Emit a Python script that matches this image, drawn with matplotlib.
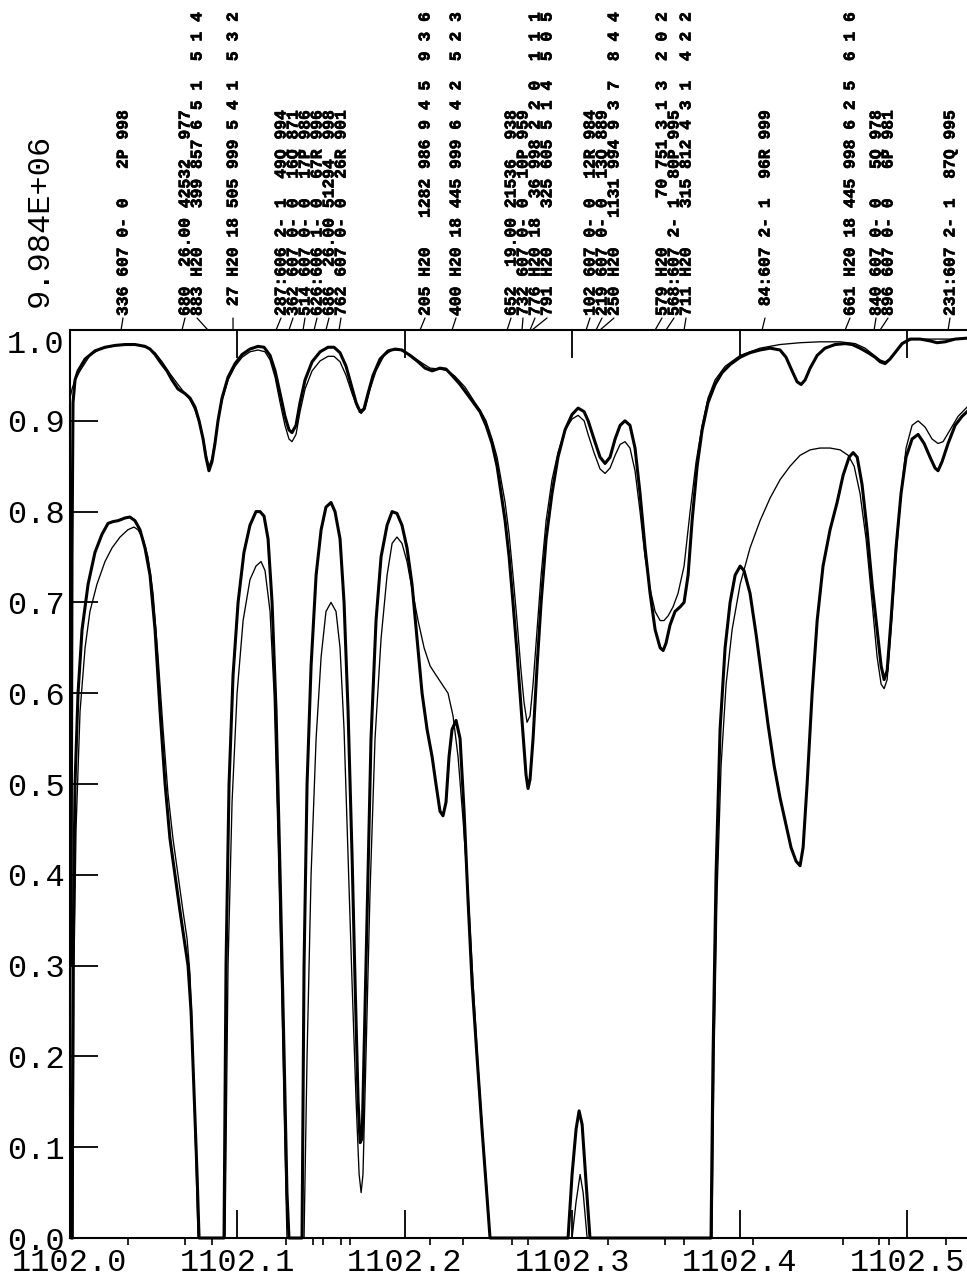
import matplotlib
matplotlib.use("Agg")
import matplotlib.pyplot as plt
from matplotlib.patches import ConnectionPatch
from matplotlib.font_manager import FontProperties
import matplotlib.patheffects as pe
import numpy as np

plt.rcParams['font.family'] = ['Liberation Mono', 'DejaVu Sans Mono']

# ---------------- data (wavenumber offsets above 1102.0 cm-1, transmittance) -------------
BASE = 1102.0

ut_x = [.0006,.0012,.0018,.0030,.0048,.0090,.0149,.0209,.0269,.0329,.0388,.0448,.0478,.0508,.0538,.0579,.0609,.0645,.0687,.0717,.0747,.0771,.0795,.0812,.0830,.0848,.0866,.0884,.0908,.0944,.0986,.1028,.1075,.1123,.1159,.1195,.1225,.1255,.1284,.1308,.1326,.1350,.1374,.1404,.1446,.1494,.1541,.1577,.1613,.1649,.1679,.1709,.1733,.1756,.1780,.1810,.1852,.1900,.1942,.1983,.2031,.2079,.2121,.2163,.2210,.2246,.2282,.2330,.2390,.2449,.2485,.2521,.2551,.2575,.2599,.2623,.2646,.2670,.2694,.2712,.2724,.2736,.2748,.2766,.2790,.2814,.2844,.2879,.2915,.2957,.2999,.3035,.3071,.3095,.3130,.3166,.3196,.3226,.3256,.3286,.3315,.3345,.3375,.3405,.3435,.3465,.3495,.3525,.3543,.3560,.3584,.3614,.3644,.3668,.3692,.3716,.3746,.3776,.3811,.3853,.3895,.3943,.4003,.4062,.4122,.4182,.4241,.4277,.4313,.4343,.4367,.4391,.4421,.4463,.4510,.4570,.4630,.4672,.4719,.4767,.4809,.4839,.4869,.4898,.4928,.4970,.5018,.5078,.5137,.5179,.5227,.5287,.5358]
ut_y = [0.30,0.75,0.92,0.945,0.955,0.968,0.977,0.981,0.983,0.984,0.984,0.982,0.979,0.973,0.965,0.955,0.945,0.935,0.93,0.925,0.915,0.90,0.88,0.86,0.845,0.855,0.875,0.90,0.925,0.948,0.963,0.973,0.979,0.982,0.981,0.972,0.955,0.93,0.905,0.89,0.887,0.895,0.92,0.945,0.965,0.976,0.981,0.981,0.975,0.96,0.94,0.92,0.91,0.913,0.93,0.95,0.968,0.977,0.979,0.978,0.972,0.965,0.958,0.955,0.958,0.957,0.950,0.94,0.925,0.91,0.895,0.875,0.85,0.82,0.79,0.75,0.70,0.645,0.585,0.54,0.51,0.495,0.505,0.55,0.63,0.70,0.77,0.82,0.86,0.89,0.907,0.914,0.91,0.90,0.88,0.86,0.853,0.86,0.88,0.895,0.9,0.895,0.87,0.82,0.76,0.71,0.67,0.65,0.647,0.655,0.675,0.69,0.695,0.70,0.73,0.79,0.85,0.89,0.92,0.94,0.953,0.962,0.97,0.975,0.978,0.98,0.978,0.97,0.955,0.943,0.94,0.945,0.958,0.972,0.98,0.984,0.985,0.984,0.98,0.975,0.97,0.965,0.963,0.968,0.975,0.985,0.99,0.99,0.988,0.986,0.987,0.99,0.991]

uu_x = [.0000,.0012,.0030,.0060,.0119,.0179,.0269,.0358,.0418,.0466,.0508,.0550,.0597,.0645,.0687,.0717,.0747,.0777,.0801,.0818,.0830,.0848,.0866,.0884,.0908,.0944,.0986,.1028,.1075,.1123,.1165,.1195,.1225,.1255,.1284,.1308,.1326,.1350,.1374,.1404,.1446,.1494,.1541,.1577,.1613,.1649,.1685,.1715,.1739,.1762,.1792,.1828,.1876,.1924,.1971,.2031,.2091,.2151,.2210,.2258,.2300,.2360,.2419,.2449,.2485,.2521,.2551,.2575,.2599,.2623,.2646,.2670,.2694,.2712,.2730,.2748,.2766,.2790,.2814,.2844,.2879,.2915,.2957,.2999,.3035,.3071,.3095,.3130,.3166,.3196,.3226,.3256,.3286,.3315,.3345,.3375,.3405,.3435,.3465,.3495,.3525,.3548,.3572,.3602,.3632,.3668,.3704,.3740,.3776,.3811,.3853,.3913,.4003,.4122,.4241,.4361,.4480,.4600,.4690,.4749,.4797,.4839,.4869,.4898,.4934,.4976,.5030,.5137,.5257,.5358]
uu_y = [0.925,0.935,0.945,0.955,0.972,0.979,0.983,0.984,0.983,0.98,0.975,0.965,0.952,0.94,0.93,0.923,0.912,0.895,0.875,0.858,0.85,0.858,0.878,0.90,0.922,0.945,0.96,0.97,0.976,0.978,0.976,0.967,0.948,0.92,0.895,0.88,0.877,0.885,0.91,0.935,0.955,0.966,0.971,0.971,0.965,0.95,0.93,0.915,0.908,0.913,0.935,0.955,0.972,0.978,0.978,0.973,0.965,0.958,0.957,0.955,0.949,0.937,0.92,0.912,0.90,0.88,0.86,0.835,0.81,0.775,0.73,0.68,0.625,0.59,0.568,0.575,0.61,0.67,0.73,0.79,0.835,0.865,0.89,0.902,0.906,0.90,0.885,0.865,0.847,0.842,0.848,0.862,0.874,0.877,0.87,0.845,0.80,0.75,0.715,0.69,0.68,0.68,0.685,0.695,0.71,0.74,0.80,0.855,0.895,0.925,0.945,0.96,0.972,0.98,0.984,0.986,0.987,0.987,0.985,0.98,0.973,0.967,0.965,0.968,0.976,0.985,0.99,0.99,0.99,0.991]

lt_x = [.0012,.0018,.0030,.0048,.0072,.0108,.0149,.0191,.0227,.0257,.0287,.0329,.0358,.0388,.0418,.0448,.0478,.0508,.0538,.0568,.0597,.0627,.0657,.0681,.0705,.0723,.0741,.0759,.0771,.0920,.0932,.0950,.0974,.1004,.1039,.1075,.1111,.1135,.1159,.1183,.1207,.1231,.1255,.1279,.1296,.1308,.1386,.1398,.1416,.1440,.1470,.1500,.1529,.1559,.1583,.1613,.1637,.1661,.1685,.1703,.1721,.1733,.1745,.1756,.1774,.1798,.1828,.1858,.1894,.1924,.1953,.1983,.2013,.2043,.2073,.2103,.2133,.2163,.2186,.2210,.2228,.2246,.2264,.2282,.2306,.2330,.2354,.2378,.2402,.2431,.2461,.2485,.2509,.2975,.2999,.3023,.3041,.3059,.3083,.3106,.3829,.3841,.3859,.3883,.3913,.3943,.3973,.4003,.4026,.4062,.4098,.4134,.4170,.4206,.4241,.4277,.4307,.4337,.4361,.4379,.4403,.4433,.4463,.4498,.4540,.4582,.4618,.4654,.4678,.4702,.4731,.4761,.4791,.4821,.4845,.4863,.4881,.4904,.4934,.4964,.4994,.5030,.5066,.5102,.5137,.5167,.5185,.5209,.5245,.5287,.5329,.5358]
lt_y = [0.0,0.3,0.5,0.6,0.67,0.72,0.755,0.775,0.787,0.789,0.79,0.793,0.794,0.79,0.78,0.76,0.73,0.67,0.58,0.50,0.44,0.40,0.36,0.33,0.30,0.25,0.16,0.07,0.0,0.0,0.3,0.5,0.62,0.7,0.755,0.785,0.80,0.80,0.795,0.77,0.70,0.58,0.40,0.20,0.05,0.0,0.0,0.3,0.5,0.63,0.73,0.78,0.805,0.81,0.80,0.77,0.70,0.58,0.42,0.28,0.15,0.105,0.11,0.2,0.35,0.55,0.68,0.75,0.785,0.80,0.798,0.785,0.76,0.72,0.66,0.60,0.56,0.53,0.50,0.47,0.465,0.48,0.53,0.56,0.57,0.55,0.47,0.37,0.28,0.20,0.12,0.06,0.0,0.0,0.07,0.12,0.14,0.125,0.06,0.0,0.0,0.2,0.4,0.56,0.65,0.70,0.73,0.74,0.735,0.71,0.665,0.615,0.565,0.52,0.485,0.455,0.43,0.415,0.41,0.43,0.50,0.60,0.68,0.74,0.78,0.81,0.84,0.86,0.865,0.86,0.83,0.78,0.72,0.67,0.63,0.615,0.625,0.68,0.76,0.82,0.86,0.88,0.885,0.875,0.86,0.848,0.845,0.855,0.875,0.895,0.905,0.91]

lu_x = [.0018,.0024,.0036,.0060,.0090,.0119,.0161,.0209,.0251,.0299,.0346,.0382,.0406,.0436,.0466,.0496,.0526,.0556,.0585,.0615,.0645,.0675,.0699,.0717,.0735,.0753,.0765,.0926,.0944,.0968,.0998,.1034,.1075,.1111,.1141,.1165,.1195,.1219,.1243,.1267,.1284,.1296,.1398,.1416,.1440,.1470,.1500,.1529,.1559,.1589,.1613,.1637,.1661,.1685,.1709,.1727,.1739,.1750,.1768,.1792,.1822,.1858,.1894,.1924,.1953,.1983,.2013,.2043,.2079,.2115,.2151,.2186,.2222,.2258,.2288,.2318,.2348,.2378,.2408,.2437,.2467,.2491,.2509,.2999,.3023,.3047,.3065,.3089,.3835,.3847,.3865,.3889,.3919,.3955,.4003,.4062,.4122,.4182,.4241,.4301,.4361,.4421,.4480,.4540,.4600,.4648,.4684,.4719,.4755,.4791,.4821,.4845,.4863,.4881,.4904,.4934,.4964,.4994,.5030,.5066,.5108,.5149,.5185,.5215,.5257,.5305,.5358]
lu_y = [0.0,0.3,0.45,0.58,0.65,0.69,0.72,0.745,0.76,0.772,0.78,0.783,0.78,0.77,0.75,0.71,0.64,0.56,0.49,0.44,0.40,0.36,0.33,0.29,0.20,0.08,0.0,0.0,0.3,0.48,0.6,0.68,0.725,0.74,0.745,0.735,0.69,0.60,0.44,0.25,0.10,0.0,0.0,0.2,0.4,0.55,0.64,0.69,0.70,0.69,0.65,0.56,0.42,0.28,0.15,0.07,0.05,0.07,0.2,0.38,0.55,0.66,0.73,0.765,0.772,0.765,0.745,0.715,0.68,0.65,0.63,0.62,0.61,0.60,0.575,0.53,0.46,0.38,0.28,0.19,0.11,0.05,0.0,0.0,0.04,0.07,0.05,0.0,0.0,0.2,0.38,0.52,0.61,0.67,0.72,0.76,0.79,0.815,0.835,0.85,0.862,0.868,0.87,0.87,0.868,0.862,0.85,0.82,0.77,0.70,0.64,0.61,0.605,0.615,0.67,0.75,0.82,0.87,0.895,0.9,0.893,0.88,0.875,0.877,0.89,0.905,0.915]

x_major = [1102.0, 1102.1, 1102.2, 1102.3, 1102.4, 1102.5]
x_major_labels = ['1102.0', '1102.1', '1102.2', '1102.3', '1102.4', '1102.5']
x_minor_off = [.0346,.0687,.0848,.1290,.1452,.1511,.1619,.1673,.2151,.2348,.2640,.2736,.3214,.3554,.3668,.4080,.4618,.4833,.4893,.5233]
y_major = [0.0, 0.1, 0.2, 0.3, 0.4, 0.5, 0.6, 0.7, 0.8, 0.9, 1.0]
y_major_labels = ['0.0', '0.1', '0.2', '0.3', '0.4', '0.5', '0.6', '0.7', '0.8', '0.9', '1.0']
scale_label = '9.984E+06'

# line-list annotations: text, line position (offset), text column (px)
line_texts = [
    "336 607 0- 0   2P 998",
    "680  26.00 42532  977",
    "883 H20    399 857 6 5 1  5 1 4",
    " 27 H20 18 505 999 5 4 1  5 3 2",
    "287:606 2- 1  49Q 994",
    "362 607 0- 0  16Q 871",
    "514 607 0- 0  17P 986",
    "626:606 1- 0  67R 996",
    "686  26.00 51294  998",
    "762 607 0- 0  26R 901",
    "205 H20   1282 986 9 4 5  9 3 6",
    "400 H20 18 445 999 6 4 2  5 2 3",
    "652  19.00 21536  938",
    "732 607 0- 0  10P 959",
    "776 H20 18  36 998 2 2 0  1 1 1",
    "791 H20    325 605 5 1 4  5 0 5",
    "102 607 0- 0  12R 984",
    "219 607 0- 0  13Q 889",
    "250 H20   1131 994 9 3 7  8 4 4",
    "579 H20     70 751 3 1 3  2 0 2",
    "568:607 2- 1  80P 995",
    "711 H20    315 812 4 3 1  4 2 2",
    " 84:607 2- 1  96R 999",
    "661 H20 18 445 998 6 2 5  6 1 6",
    "840 607 0- 0   5Q 978",
    "896 607 0- 0   6P 981",
    "231:607 2- 1  87Q 995",
]
line_pos = [.0305,.0669,.0824,.0974,.1231,.1308,.1392,.1458,.1529,.1607,.2091,.2282,.2611,.2700,.2748,.2760,.3083,.3142,.3166,.3495,.3560,.3668,.4134,.4630,.4803,.4839,.5245]
text_col = [123,185,197,233,281,293,305,317,329,341,425,456,511,523,535,547,590,602,614,662,674,686,765,850,876,888,950]
label_blocks = [[0], [1, 2], [3], [4, 5, 6, 7, 8, 9], [10], [11], [12, 13, 14, 15],
                [16, 17, 18], [19, 20, 21], [22], [23], [24, 25], [26]]

# ---------------- figure ----------------
W, H = 967, 1280
fig = plt.figure(figsize=(W / 100, H / 100), dpi=100)
fig.patch.set_facecolor('white')
ax = fig.add_axes([70 / W, 42 / H, 897 / W, 908 / H])

thin = dict(color='black', lw=0.95, solid_joinstyle='round', clip_on=False)
thick = dict(color='black', lw=2.2, solid_joinstyle='round', clip_on=False)
ax.plot(BASE + np.array(uu_x), uu_y, **thin)
ax.plot(BASE + np.array(lu_x), lu_y, **thin)
ax.plot(BASE + np.array(ut_x), ut_y, **thick)
ax.plot(BASE + np.array(lt_x), lt_y, **thick)

ax.set_xlim(BASE, BASE + 0.5358)
ax.set_ylim(0.0, 1.0)

ax.set_xticks(x_major)
ax.set_xticklabels(x_major_labels)
ax.set_xticks(BASE + np.array(x_minor_off), minor=True)
ax.set_yticks(y_major)
ax.set_yticklabels(y_major_labels)

ax.tick_params(axis='x', which='major', direction='in', length=20, width=1.3,
               top=True, bottom=True, pad=7, labelsize=23)
ax.tick_params(axis='x', which='minor', direction='out', length=5, width=1.2,
               top=False, bottom=True)
ax.tick_params(axis='y', which='major', direction='in', length=20, width=1.3,
               left=True, right=False, pad=4, labelsize=23)
for lbl in ax.get_yticklabels():
    if lbl.get_text() == '1.0':
        lbl.set_verticalalignment('top')

for side in ['left', 'top', 'bottom']:
    ax.spines[side].set_linewidth(1.5)
ax.spines['right'].set_visible(False)

fig.text(40 / W, 1 - 220 / H, scale_label, rotation=90, ha='center', va='center',
         fontsize=23)

# annotation text blocks (monospace, rotated), line pitch ~12 px between columns
lab_fp = FontProperties(family='Liberation Mono', size=11.76, weight='bold')
renderer = fig.canvas.get_renderer()
_, lp_h, lp_d = renderer.get_text_width_height_descent('lp', lab_fp, ismath=False)
col_step = 12.0
lspace = (col_step - lp_d) / (lp_h - lp_d)
heavy = [pe.withStroke(linewidth=0.45, foreground='black')]

for block in label_blocks:
    txt = "\n".join(line_texts[i] for i in block)
    cx = np.mean([text_col[i] for i in block])
    fig.text(cx, H - 316, txt, transform=None, rotation=90, ha='center', va='bottom',
             multialignment='left', linespacing=lspace, fontproperties=lab_fp,
             path_effects=heavy)
    for i in block:
        con = ConnectionPatch(xyA=(text_col[i], H - 318), coordsA='figure pixels',
                              xyB=(BASE + line_pos[i], 1.0), coordsB='data',
                              axesB=ax, color='black', lw=0.9)
        fig.add_artist(con)

fig.savefig('out.png', dpi=100, facecolor='white')
